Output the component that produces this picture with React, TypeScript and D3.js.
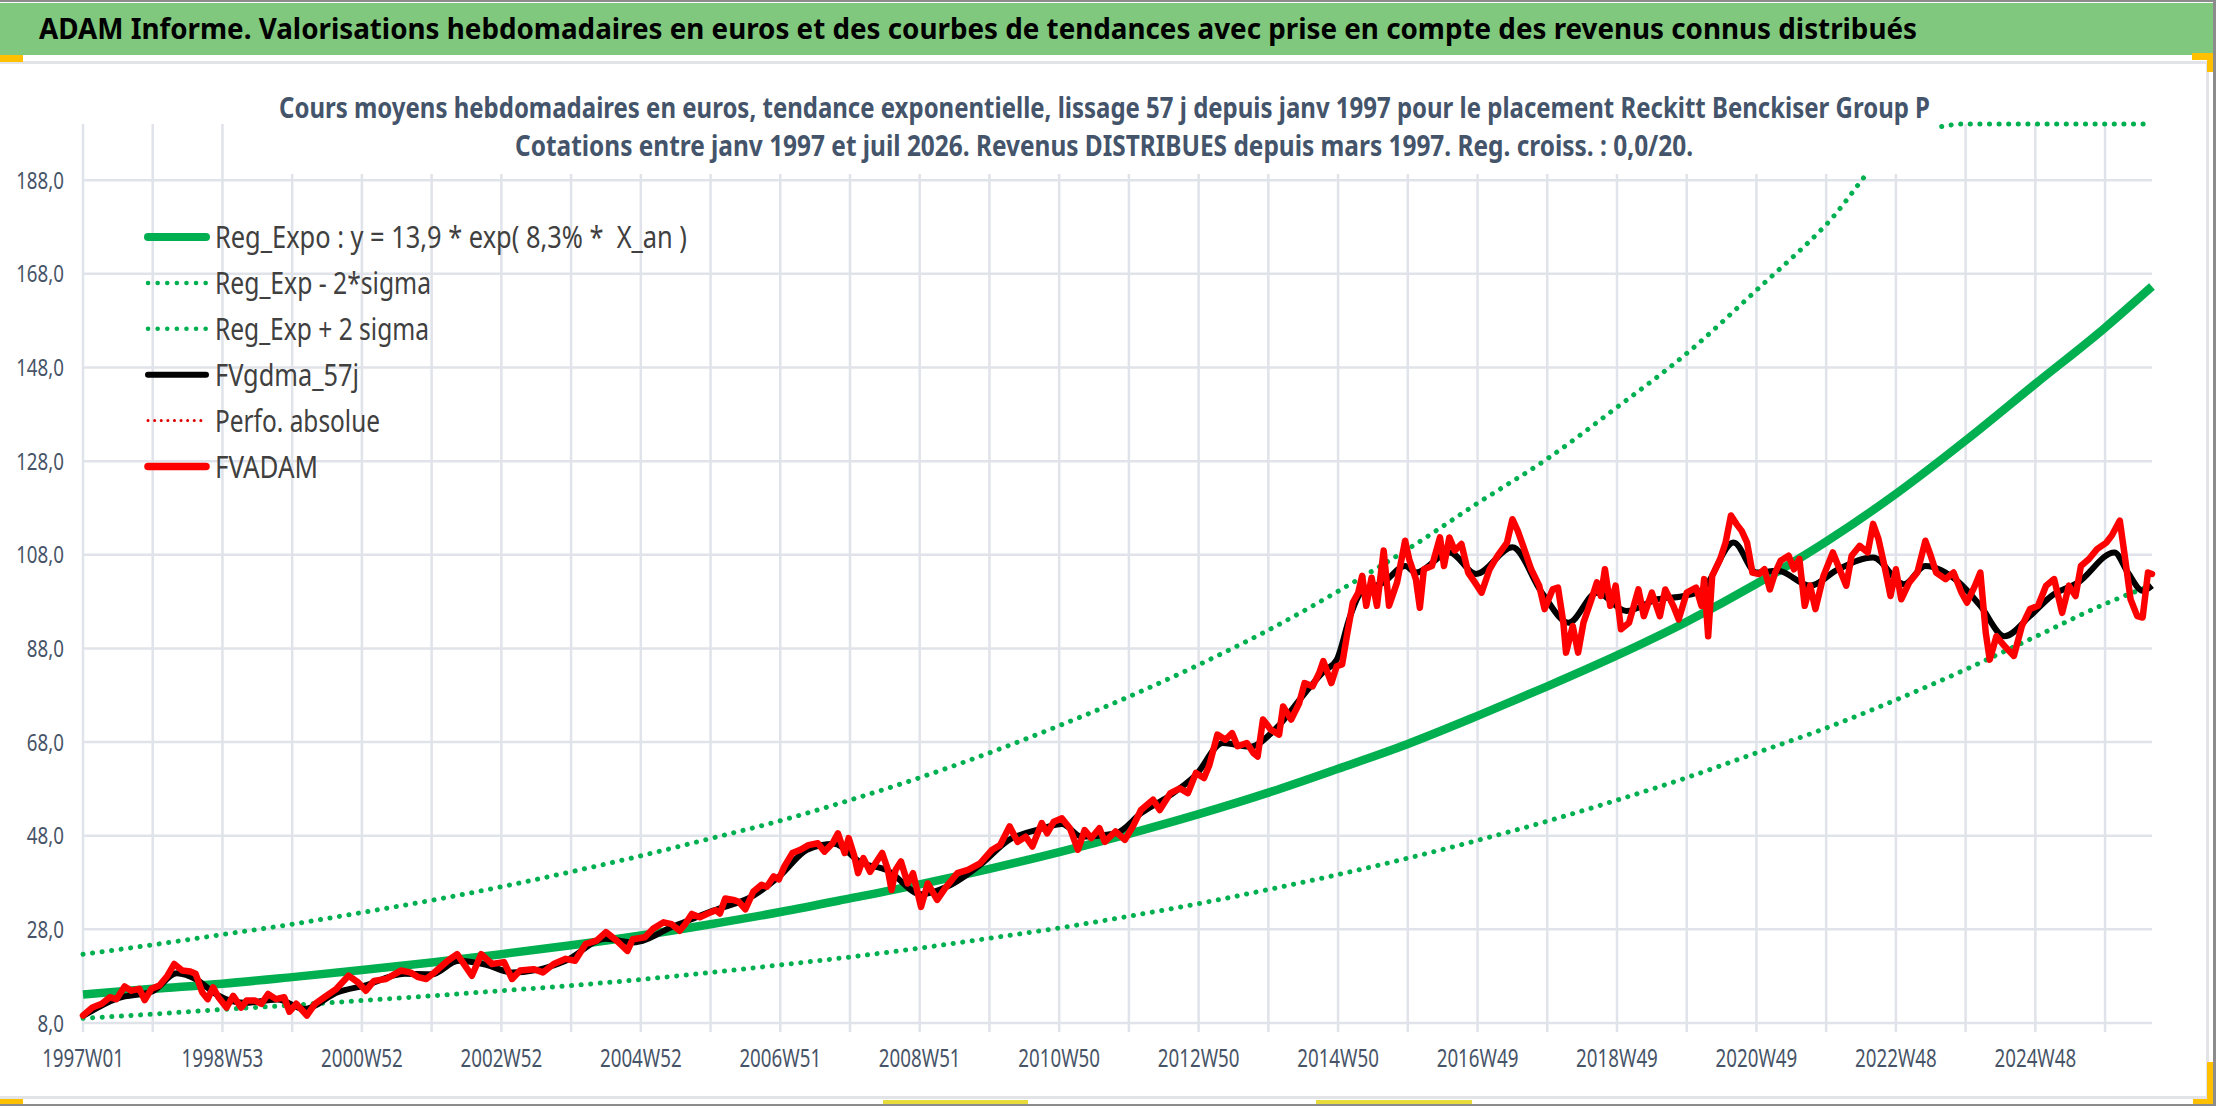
import React, { useRef, useEffect } from 'react';
import * as d3 from 'd3';

// weekly categories: 1997W01 .. 2026W30 (index 0 .. 1543)
const weekCount = 1544;
const tickWeeks = [0, 104, 208, 312, 416, 520, 624, 728, 832, 936, 1040, 1144, 1248, 1352, 1456];
const tickLabels = ['1997W01', '1998W53', '2000W52', '2002W52', '2004W52', '2006W51', '2008W51', '2010W50',
    '2012W50', '2014W50', '2016W49', '2018W49', '2020W49', '2022W48', '2024W48'];
const gridWeeks = d3.range(0, 30).map(k => k * 52);
const yTicks = [8, 28, 48, 68, 88, 108, 128, 148, 168, 188];

// trend curves read at each yearly gridline, plus the last week
const trendWeeks = [0, 52, 104, 156, 208, 260, 312, 364, 416, 468, 520, 572, 624, 676, 728, 780, 832, 884,
    936, 988, 1040, 1092, 1144, 1196, 1248, 1300, 1352, 1404, 1456, 1508, 1543];
const regExpo = [14.1, 15.3, 16.4, 17.8, 19.3, 20.9, 22.7, 24.6, 26.7, 29.1, 31.7, 34.6, 37.6, 40.9, 44.5, 48.4,
    52.6, 57.2, 62.3, 67.6, 73.6, 79.9, 86.5, 93.7, 101.8, 110.8, 121.0, 132.4, 144.5, 156.5, 165.3];
const regLow = [9.0, 9.9, 10.9, 11.8, 12.8, 13.8, 14.9, 16.0, 17.3, 18.8, 20.4, 22.1, 24.0, 26.1, 28.3, 30.8,
    33.5, 36.5, 39.7, 43.2, 47.0, 51.1, 55.6, 60.4, 65.7, 71.0, 77.0, 83.5, 90.5, 97.5, 101.5];
const regHigh = [22.7, 24.7, 26.9, 29.1, 31.6, 34.2, 37.1, 40.3, 43.7, 47.4, 51.2, 55.6, 60.4, 65.7, 71.5, 77.7,
    84.5, 91.9, 100.2, 109.2, 119.0, 128.5, 139.5, 151.0, 164.5, 178.5, 195.5, 213, 232, 252, 266];

// FVADAM weekly values, read at turning points [week, value]
const fvadam: [number, number][] = [
    [0, 9.6], [7, 11.3], [14, 12.1], [20, 13.5], [25, 13.1], [31, 15.8], [36, 14.9], [42, 15.3], [46, 12.9],
    [51, 15.3], [57, 16.0], [63, 18.1], [68, 20.6], [74, 19.2], [80, 19.0], [84, 18.5], [89, 14.5], [93, 13.1],
    [97, 15.6], [101, 13.5], [107, 11.3], [112, 13.8], [118, 11.3], [122, 12.8], [128, 12.8], [133, 12.1],
    [138, 14.2], [144, 13.1], [150, 13.5], [154, 10.4], [159, 12.1], [167, 9.6], [173, 12.1], [180, 13.5],
    [189, 15.3], [198, 18.1], [205, 16.7], [211, 14.9], [217, 17.0], [226, 17.4], [237, 19.2], [244, 18.8],
    [250, 17.8], [256, 17.4], [262, 18.8], [272, 21.3], [279, 22.7], [285, 20.2], [290, 18.1], [297, 22.7],
    [305, 20.6], [314, 21.0], [320, 17.4], [326, 19.2], [336, 19.5], [343, 18.8], [351, 20.6], [360, 21.7],
    [367, 21.3], [375, 24.9], [383, 25.6], [390, 27.4], [398, 25.6], [406, 23.4], [410, 25.9], [419, 26.3],
    [425, 28.1], [433, 29.5], [439, 29.1], [445, 27.7], [449, 29.1], [454, 31.3], [460, 30.6], [466, 31.4],
    [472, 32.1], [475, 31.4], [479, 34.6], [485, 34.3], [489, 33.9], [494, 32.3], [500, 36.1], [506, 37.5],
    [510, 37.1], [515, 39.3], [519, 38.7], [523, 41.4], [529, 44.3], [535, 45.0], [541, 46.0], [548, 46.4],
    [553, 44.6], [559, 46.4], [563, 48.5], [568, 44.3], [571, 47.5], [575, 43.9], [578, 40.0], [582, 43.2],
    [587, 40.3], [591, 42.1], [596, 44.3], [600, 41.0], [603, 36.4], [606, 40.7], [610, 42.5], [615, 37.8],
    [619, 40.0], [625, 32.8], [630, 37.8], [637, 34.3], [643, 36.8], [652, 40.0], [660, 40.7], [669, 42.1],
    [678, 45.0], [684, 46.0], [691, 50.0], [697, 46.7], [703, 47.8], [708, 45.7], [715, 50.7], [719, 48.5],
    [724, 51.0], [730, 51.7], [736, 49.6], [742, 45.0], [747, 49.2], [752, 47.5], [758, 49.6], [762, 46.7],
    [770, 48.9], [777, 47.1], [783, 50.0], [789, 53.5], [798, 55.7], [803, 53.5], [811, 57.1], [818, 58.1],
    [824, 57.1], [830, 61.4], [836, 60.3], [840, 63.1], [846, 69.6], [852, 68.5], [857, 69.9], [861, 67.1],
    [868, 67.8], [873, 65.6], [876, 64.9], [880, 72.8], [886, 70.6], [892, 69.6], [895, 75.6], [901, 72.8],
    [907, 76.3], [911, 80.6], [917, 79.9], [922, 82.8], [925, 85.3], [931, 80.6], [935, 84.2], [939, 84.6],
    [943, 91.4], [947, 97.8], [951, 99.9], [954, 103.5], [957, 97.1], [961, 103.1], [965, 97.1], [970, 108.9],
    [974, 97.1], [980, 102.1], [986, 111.0], [989, 107.1], [994, 102.8], [997, 96.7], [1000, 104.9],
    [1006, 105.6], [1012, 111.7], [1015, 105.6], [1019, 111.7], [1023, 108.9], [1028, 110.3], [1033, 104.2],
    [1038, 102.1], [1043, 99.9], [1049, 104.9], [1055, 107.8], [1062, 110.6], [1066, 115.6], [1070, 113.1],
    [1074, 109.9], [1080, 104.9], [1086, 101.4], [1090, 96.4], [1096, 100.6], [1100, 101.0], [1104, 93.5],
    [1106, 87.1], [1111, 92.8], [1115, 87.1], [1119, 93.5], [1125, 98.5], [1129, 102.1], [1132, 99.2],
    [1135, 104.9], [1139, 97.1], [1143, 101.4], [1147, 92.1], [1153, 93.5], [1160, 100.6], [1164, 94.9],
    [1170, 99.9], [1176, 94.9], [1180, 100.6], [1186, 97.1], [1190, 94.2], [1196, 99.9], [1203, 101.0],
    [1207, 97.1], [1209, 102.8], [1212, 90.6], [1215, 103.5], [1221, 107.1], [1225, 110.6], [1229, 116.4],
    [1233, 114.6], [1237, 113.1], [1241, 110.6], [1245, 104.2], [1250, 103.9], [1254, 104.9], [1258, 100.6],
    [1262, 104.2], [1266, 106.7], [1272, 107.8], [1276, 104.9], [1280, 107.1], [1284, 97.1], [1288, 101.4],
    [1292, 96.4], [1298, 103.5], [1305, 108.5], [1311, 104.2], [1315, 101.4], [1319, 107.8], [1325, 109.9],
    [1331, 108.5], [1335, 114.6], [1339, 111.4], [1344, 104.9], [1348, 99.2], [1352, 104.9], [1356, 98.5],
    [1362, 102.1], [1368, 104.2], [1374, 111.0], [1378, 107.8], [1382, 104.2], [1389, 102.8], [1395, 104.2],
    [1401, 99.9], [1405, 97.8], [1411, 101.4], [1415, 104.2], [1419, 91.4], [1422, 85.6], [1427, 90.6],
    [1433, 88.5], [1440, 86.4], [1446, 92.8], [1452, 96.4], [1458, 97.1], [1464, 101.4], [1470, 102.8],
    [1476, 95.6], [1481, 101.4], [1486, 99.2], [1490, 105.6], [1496, 107.1], [1502, 109.2], [1509, 110.6],
    [1513, 112.1], [1519, 115.3], [1523, 107.1], [1527, 98.5], [1532, 94.9], [1536, 94.6], [1540, 104.2],
    [1543, 103.9],
];

// FVgdma_57j smoothed values [week, value]
const fvgdma: [number, number][] = [
    [0, 9.5], [26, 13.3], [52, 14.8], [70, 18.6], [85, 17.2], [100, 14.0], [120, 12.3], [145, 13.0], [165, 11.0],
    [190, 14.6], [210, 16.0], [240, 18.5], [260, 18.4], [280, 21.3], [300, 20.5], [320, 18.8], [340, 19.4],
    [360, 21.3], [390, 26.0], [410, 25.2], [440, 28.6], [470, 32.0], [500, 35.2], [520, 39.5], [540, 45.0],
    [560, 46.3], [580, 42.3], [600, 40.6], [625, 35.5], [645, 37.2], [670, 42.0], [690, 47.0], [715, 49.5],
    [730, 50.5], [745, 47.8], [770, 48.5], [790, 53.0], [810, 56.5], [830, 61.0], [850, 67.8], [870, 67.0],
    [890, 71.0], [910, 78.0], [925, 83.0], [935, 85.6], [945, 94.9], [953, 99.9], [970, 102.1], [986, 105.6],
    [994, 104.2], [1019, 108.5], [1039, 103.9], [1066, 109.6], [1088, 99.9], [1108, 93.5], [1129, 99.9],
    [1151, 96.0], [1174, 98.5], [1194, 99.2], [1208, 100.6], [1231, 110.6], [1248, 104.2], [1264, 104.6],
    [1288, 101.4], [1309, 104.9], [1335, 107.4], [1358, 101.7], [1374, 105.6], [1399, 102.1], [1415, 97.1],
    [1433, 90.6], [1452, 94.9], [1468, 99.2], [1488, 102.1], [1515, 108.5], [1525, 104.2], [1536, 100.3],
    [1543, 101.4],
];

const legendLabels = ['Reg_Expo : y = 13,9 * exp( 8,3% *  X_an )', 'Reg_Exp - 2*sigma', 'Reg_Exp + 2 sigma',
    'FVgdma_57j', 'Perfo. absolue', 'FVADAM'];
const titleText = 'ADAM Informe. Valorisations hebdomadaires en euros et des courbes de tendances avec prise en compte des revenus connus distribués';
const subtitle1 = 'Cours moyens hebdomadaires en euros, tendance exponentielle, lissage 57 j depuis janv 1997 pour le placement Reckitt Benckiser Group P';
const subtitle2 = 'Cotations entre janv 1997 et juil 2026. Revenus DISTRIBUES depuis mars 1997. Reg. croiss. : 0,0/20.';

const W = 2216;
const H = 1106;
const FONT = "'Noto Sans', 'Open Sans', sans-serif";

export default function App() {
    const svgRef = useRef<SVGSVGElement | null>(null);

    useEffect(() => {
        document.body.style.margin = '0';
        if (!svgRef.current) return;
        const svg = d3.select(svgRef.current);
        svg.selectAll('*').remove();

        const plot = { left: 83, right: 2152, top: 124, bottom: 1023 };
        const x = d3.scaleLinear().domain([0, weekCount - 1]).range([plot.left, plot.right]);
        const y = d3.scaleLinear().domain([8, 200]).range([plot.bottom, plot.top]);
        const yMax = 200;

        // sheet frame
        svg.append('rect').attr('width', W).attr('height', H).attr('fill', '#ffffff');
        svg.append('rect').attr('x', 0).attr('y', 3).attr('width', W).attr('height', 52).attr('fill', '#7fc87d');
        svg.append('rect').attr('x', 0).attr('y', 0).attr('width', W).attr('height', 2).attr('fill', '#8c8c8c');
        svg.append('rect').attr('x', 0).attr('y', 61).attr('width', 2208).attr('height', 3).attr('fill', '#e2e4e8');
        svg.append('rect').attr('x', 2206).attr('y', 62).attr('width', 3).attr('height', 1036).attr('fill', '#e2e4e8');
        svg.append('rect').attr('x', 0).attr('y', 1096).attr('width', 2208).attr('height', 3).attr('fill', '#e2e4e8');
        svg.append('rect').attr('x', 2213).attr('y', 0).attr('width', 3).attr('height', H).attr('fill', '#8c8c8c');
        svg.append('rect').attr('x', 0).attr('y', 1104).attr('width', W).attr('height', 2).attr('fill', '#8c8c8c');
        const yellow = '#ffc000';
        [[0, 55, 23, 7], [2192, 53, 21, 7], [2207, 53, 6, 19], [2207, 1062, 6, 40], [2193, 1099, 20, 5],
         [0, 1099, 23, 5]].forEach(([rx, ry, rw, rh]) => {
            svg.append('rect').attr('x', rx).attr('y', ry).attr('width', rw).attr('height', rh).attr('fill', yellow);
        });
        [[883, 1100, 145, 4], [1316, 1100, 156, 4]].forEach(([rx, ry, rw, rh]) => {
            svg.append('rect').attr('x', rx).attr('y', ry).attr('width', rw).attr('height', rh).attr('fill', '#e8dc3a');
        });

        svg.append('text')
            .attr('x', 39).attr('y', 39)
            .attr('font-family', FONT).attr('font-size', 29).attr('font-weight', 'bold')
            .attr('fill', '#000')
            .attr('textLength', 1878).attr('lengthAdjust', 'spacingAndGlyphs')
            .text(titleText);

        // grid
        const gridColor = '#e0e3e9';
        const grid = svg.append('g');
        grid.selectAll('line.h').data(yTicks).enter().append('line')
            .attr('x1', plot.left).attr('x2', plot.right)
            .attr('y1', d => y(d)).attr('y2', d => y(d))
            .attr('stroke', gridColor).attr('stroke-width', 2.5);
        grid.selectAll('line.v').data(gridWeeks).enter().append('line')
            .attr('x1', d => x(d)).attr('x2', d => x(d))
            .attr('y1', plot.top).attr('y2', plot.bottom + 9)
            .attr('stroke', gridColor).attr('stroke-width', 2.5);

        // axis labels
        const fmt = (d: number) => d3.format('.1f')(d).replace('.', ',');
        svg.append('g').selectAll('text').data(yTicks).enter().append('text')
            .attr('transform', d => `translate(64,${y(d) + 8.5}) scale(0.78,1)`)
            .attr('text-anchor', 'end')
            .attr('font-family', FONT).attr('font-size', 24)
            .attr('fill', '#475467')
            .text(d => fmt(d));
        svg.append('g').selectAll('text').data(tickWeeks).enter().append('text')
            .attr('transform', d => `translate(${x(d)},1067) scale(0.75,1)`)
            .attr('text-anchor', 'middle')
            .attr('font-family', FONT).attr('font-size', 25)
            .attr('fill', '#475467')
            .text((d, i) => tickLabels[i]);

        // series
        svg.append('clipPath').attr('id', 'plotClip').append('rect')
            .attr('x', plot.left - 4).attr('y', plot.top - 6)
            .attr('width', plot.right - plot.left + 8).attr('height', plot.bottom - plot.top + 12);
        const series = svg.append('g').attr('clip-path', 'url(#plotClip)');

        const trendLine = d3.line<number>()
            .x((d, i) => x(trendWeeks[i]))
            .y(d => y(Math.min(d, yMax)))
            .curve(d3.curveMonotoneX);

        series.append('path').attr('d', trendLine(regExpo))
            .attr('fill', 'none').attr('stroke', '#00b050').attr('stroke-width', 8.5);
        [regLow, regHigh].forEach(vals => {
            series.append('path').attr('d', trendLine(vals))
                .attr('fill', 'none').attr('stroke', '#00b050').attr('stroke-width', 5)
                .attr('stroke-linecap', 'round').attr('stroke-dasharray', '0.1 9.5');
        });

        const pairLine = d3.line<[number, number]>()
            .x(d => x(d[0]))
            .y(d => y(d[1]));
        series.append('path').attr('d', pairLine.curve(d3.curveMonotoneX)(fvgdma))
            .attr('fill', 'none').attr('stroke', '#000').attr('stroke-width', 6)
            .attr('stroke-linejoin', 'round');
        series.append('path').attr('d', pairLine.curve(d3.curveLinear)(fvadam))
            .attr('fill', 'none').attr('stroke', '#ff0000').attr('stroke-width', 6.5)
            .attr('stroke-linejoin', 'round').attr('stroke-linecap', 'round');

        // subtitle box over the plot
        svg.append('rect').attr('x', 262).attr('y', 70).attr('width', 1676).attr('height', 104).attr('fill', '#fff');
        svg.append('text')
            .attr('x', 279).attr('y', 118)
            .attr('font-family', FONT).attr('font-size', 28).attr('font-weight', 'bold')
            .attr('fill', '#44546a')
            .attr('textLength', 1651).attr('lengthAdjust', 'spacingAndGlyphs')
            .text(subtitle1);
        svg.append('text')
            .attr('x', 515).attr('y', 156)
            .attr('font-family', FONT).attr('font-size', 28).attr('font-weight', 'bold')
            .attr('fill', '#44546a')
            .attr('textLength', 1178).attr('lengthAdjust', 'spacingAndGlyphs')
            .text(subtitle2);

        // legend
        const legendStyles = [
            { color: '#00b050', width: 8, dash: null, cap: 'round' },
            { color: '#00b050', width: 4.5, dash: '0.1 9.5', cap: 'round' },
            { color: '#00b050', width: 4.5, dash: '0.1 9.5', cap: 'round' },
            { color: '#000000', width: 6, dash: null, cap: 'round' },
            { color: '#e00000', width: 3, dash: '0.1 6.5', cap: 'round' },
            { color: '#ff0000', width: 7.5, dash: null, cap: 'round' },
        ];
        const legendWidths = [472, 216, 214, 144, 165, 103];
        const legend = svg.append('g');
        legendLabels.forEach((label, i) => {
            const ly = 237 + i * 45.9;
            const st = legendStyles[i];
            const ln = legend.append('line')
                .attr('x1', 148).attr('x2', 206).attr('y1', ly).attr('y2', ly)
                .attr('stroke', st.color).attr('stroke-width', st.width)
                .attr('stroke-linecap', st.cap);
            if (st.dash) ln.attr('stroke-dasharray', st.dash);
            legend.append('text')
                .attr('x', 215).attr('y', ly + 11)
                .attr('font-family', FONT).attr('font-size', 30)
                .attr('fill', '#404040')
                .style('white-space', 'pre')
                .attr('textLength', legendWidths[i]).attr('lengthAdjust', 'spacingAndGlyphs')
                .text(label);
        });
    }, []);

    return (
        <svg ref={svgRef} width={W} height={H}
            style={{ display: 'block', position: 'absolute', left: 0, top: 0, background: '#fff' }} />
    );
}
